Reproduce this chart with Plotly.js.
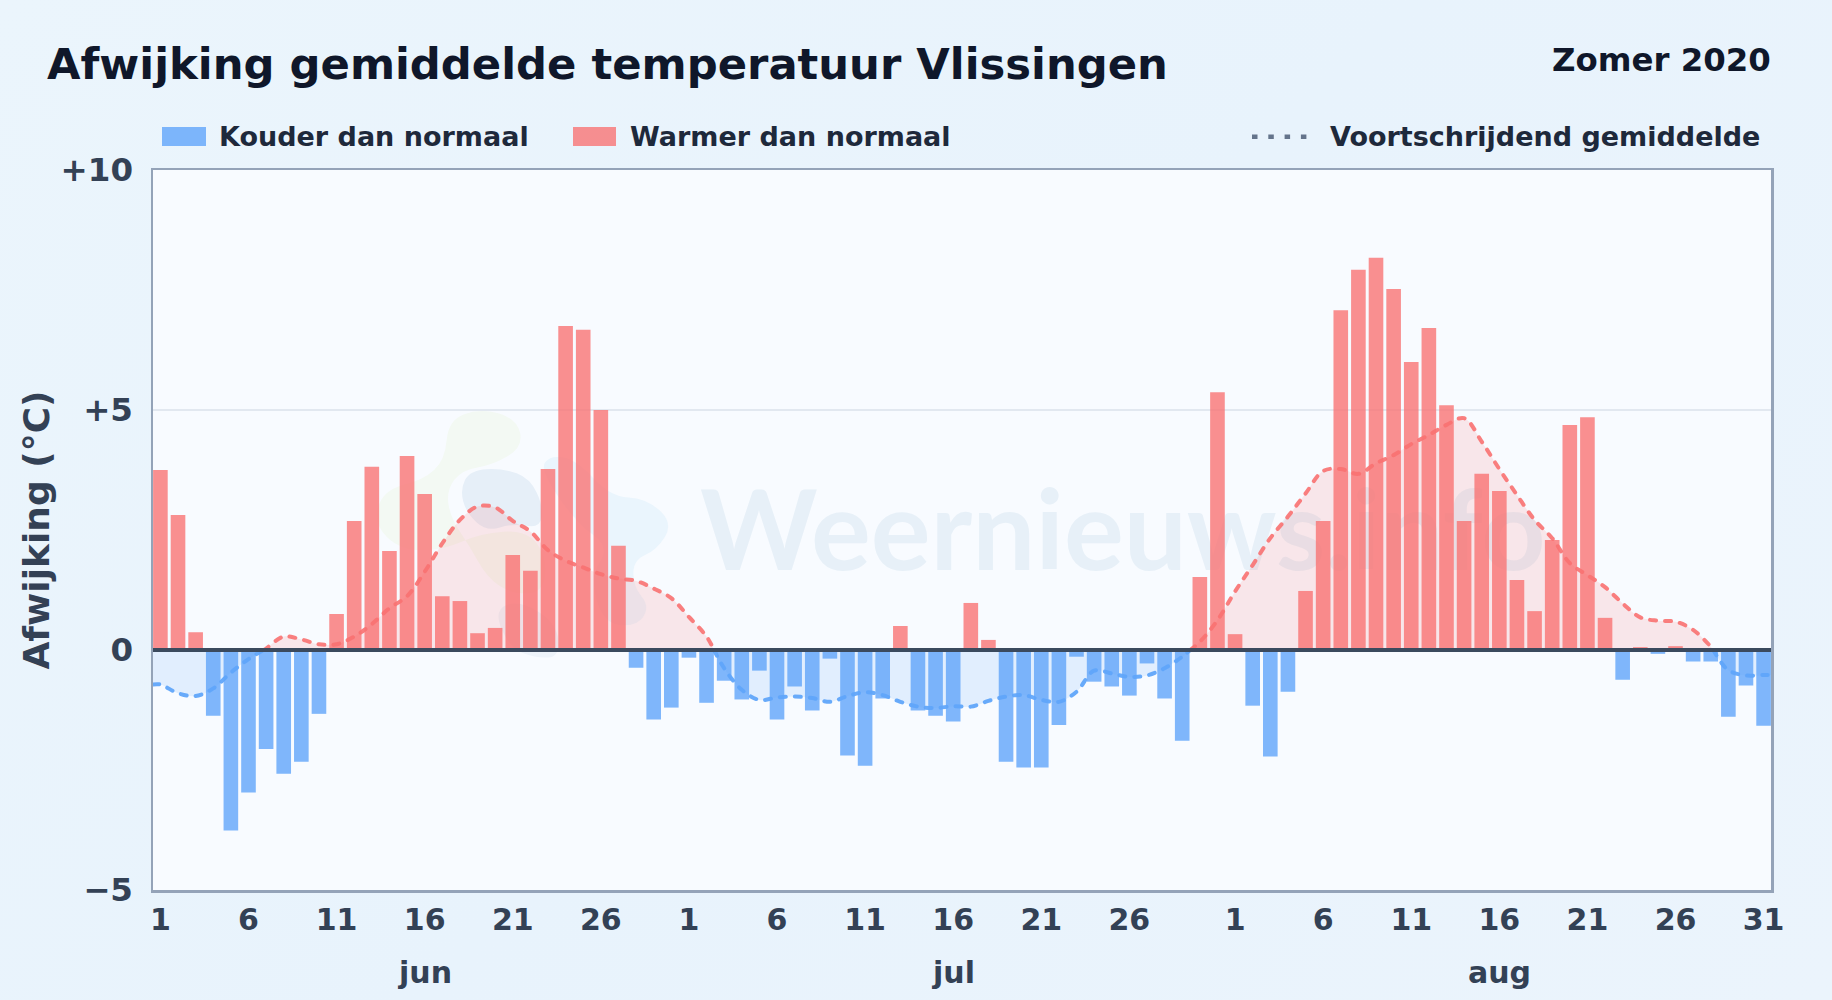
<!DOCTYPE html>
<html lang="nl">
<head>
<meta charset="utf-8">
<title>Afwijking gemiddelde temperatuur Vlissingen</title>
<script src="https://cdn.plot.ly/plotly-3.0.1.min.js"></script>
<style>
html,body{margin:0;padding:0;width:1832px;height:1000px;overflow:hidden;background:linear-gradient(135deg,#ebf5fc 0%,#e8f3fc 50%,#ebf4fc 100%);}
#chart{width:1832px;height:1000px;}
.scatterlayer .js-line{stroke-linecap:round;}
</style>
</head>
<body>
<div id="chart"></div>
<script>
const titleText = "Afwijking gemiddelde temperatuur Vlissingen";
const periodText = "Zomer 2020";
const yAxisTitle = "Afwijking (°C)";
const coldLabel = "Kouder dan normaal";
const warmLabel = "Warmer dan normaal";
const avgLabel = "Voortschrijdend gemiddelde";
const watermark = "Weernieuws.info";

const anomalies = [
  3.75,2.81,0.37,-1.37,-3.76,-2.97,-2.06,-2.58,-2.33,-1.33,
  0.75,2.69,3.82,2.06,4.04,3.25,1.12,1.02,0.35,0.46,
  1.98,1.65,3.77,6.75,6.67,5.0,2.17,-0.37,-1.45,-1.2,
  -0.16,-1.1,-0.64,-1.03,-0.43,-1.45,-0.76,-1.26,-0.18,-2.2,
  -2.41,-1.01,0.5,-1.26,-1.37,-1.49,0.98,0.21,-2.33,-2.45,
  -2.45,-1.56,-0.14,-0.66,-0.76,-0.95,-0.28,-1.01,-1.89,1.52,
  5.37,0.33,-1.16,-2.22,-0.87,1.23,2.69,7.08,7.92,8.17,
  7.52,6.0,6.71,5.1,2.69,3.67,3.31,1.46,0.81,2.29,
  4.69,4.85,0.67,-0.62,0.06,-0.08,0.08,-0.24,-0.24,-1.39,
  -0.74,-1.58
];
const movingAvg = [
  -0.72,-0.9,-0.96,-0.8,-0.47,-0.19,0.03,0.28,0.22,0.12,
  0.12,0.28,0.54,0.87,1.12,1.63,2.22,2.71,2.99,2.97,
  2.69,2.47,2.08,1.86,1.72,1.58,1.49,1.44,1.28,1.08,
  0.69,0.28,-0.38,-0.83,-1.04,-0.99,-0.97,-1.0,-1.08,-0.96,
  -0.88,-0.94,-1.08,-1.18,-1.21,-1.17,-1.18,-1.06,-0.97,-0.94,
  -1.04,-1.08,-0.87,-0.43,-0.49,-0.56,-0.53,-0.38,-0.14,0.17,
  0.62,1.22,1.77,2.33,2.78,3.26,3.73,3.77,3.67,3.89,
  4.06,4.29,4.48,4.69,4.83,4.34,3.77,3.23,2.71,2.33,
  1.81,1.56,1.31,0.97,0.68,0.61,0.59,0.42,0.07,-0.42,
  -0.53,-0.52
];
const xTickPositions = [0,5,10,15,20,25,30,35,40,45,50,55,61,66,71,76,81,86,91];
const xTickLabels = ["1","6","11","16","21","26","1","6","11","16","21","26","1","6","11","16","21","26","31"];
const yTickValues = [-5,0,5,10];
const yTickLabels = ["−5","0","+5","+10"];
const monthLabels = ["jun","jul","aug"];
const monthPositions = [15,45,76];
const xRange = [-0.42, 91.42];

const dayIndex = anomalies.map((_, i) => i);
const coldValues = anomalies.map(v => v < 0 ? v : null);
const warmValues = anomalies.map(v => v >= 0 ? v : null);

// the moving-average line runs from plot edge to plot edge
const lineX = [xRange[0], ...dayIndex, xRange[1]];
const lineY = [movingAvg[0], ...movingAvg, movingAvg[movingAvg.length - 1]];

// split it into warm and cold runs at its zero crossings
const warmX = [], warmY = [], coldX = [], coldY = [];
lineY.forEach((v, i) => {
  if (i > 0 && lineY[i - 1] * v < 0) {
    const p = lineY[i - 1];
    const cross = lineX[i - 1] + (lineX[i] - lineX[i - 1]) * p / (p - v);
    if (v > 0) { coldX.push(cross, null); coldY.push(0, null); warmX.push(cross); warmY.push(0); }
    else { warmX.push(cross, null); warmY.push(0, null); coldX.push(cross); coldY.push(0); }
  }
  if (v >= 0) { warmX.push(lineX[i]); warmY.push(v); } else { coldX.push(lineX[i]); coldY.push(v); }
});

const W = 1832, H = 1000, L = 153, R = 1771, T = 170, B = 890;
const FONT = '"DejaVu Sans", sans-serif';
const fx = px => (px - L) / (R - L);
const fy = py => (B - py) / (B - T);

function blob(zoomPts) {
  const pts = zoomPts.map(p => [fx(370 + p[0] / 3), fy(390 + p[1] / 3)]);
  const mid = (a, b) => ((a[0] + b[0]) / 2).toFixed(5) + "," + ((a[1] + b[1]) / 2).toFixed(5);
  let d = "M" + mid(pts[pts.length - 1], pts[0]);
  pts.forEach((p, i) => { d += "Q" + p[0].toFixed(5) + "," + p[1].toFixed(5) + " " + mid(p, pts[(i + 1) % pts.length]); });
  return d + "Z";
}
const logoShape = (pts, color) => ({type:"path", xref:"paper", yref:"paper", layer:"below", path:blob(pts), fillcolor:color, line:{width:0}});

const shapes = [
  logoShape([[235,90],[330,55],[440,85],[460,170],[370,225],[275,240],[230,300],[240,380],[300,470],[350,560],[420,610],[520,610],[530,500],[470,420],[330,430],[220,480],[90,480],[10,400],[40,300],[160,270],[225,210]], "#f3f9f3"),
  logoShape([[510,240],[540,195],[620,210],[720,320],[830,325],[910,400],[860,480],[790,510],[790,590],[840,650],[800,710],[700,700],[660,560],[720,470],[620,400]], "#eaf5fd"),
  logoShape([[370,660],[450,630],[560,700],[570,800],[500,805],[420,775]], "#edf3fa"),
  logoShape([[270,300],[300,240],[400,235],[480,265],[520,350],[510,415],[430,400],[350,425],[290,370]], "#e6eff8"),
  {type:"line", xref:"paper", yref:"y", x0:0, x1:1, y0:0, y1:0, layer:"above", line:{color:"#3b4a5e", width:4}},
  {type:"rect", xref:"paper", yref:"paper", x0:fx(162), x1:fx(206), y0:fy(146), y1:fy(127), fillcolor:"#60a5fa", opacity:0.8, line:{width:0}},
  {type:"rect", xref:"paper", yref:"paper", x0:fx(573), x1:fx(616), y0:fy(146), y1:fy(127), fillcolor:"#f87171", opacity:0.78, line:{width:0}},
  {type:"line", xref:"paper", yref:"paper", x0:fx(1252), x1:fx(1308), y0:fy(136.7), y1:fy(136.7), line:{color:"#64748b", width:4.5, dash:"5.5px,10.8px"}}
];

const note = (text, px, py, size, color, anchor) => ({
  text, xref:"paper", yref:"paper", x:fx(px), y:fy(py), xanchor:anchor, yanchor:"middle",
  showarrow:false, font:{family:FONT, size, color, weight:700}
});
const annotations = [
  {text:watermark, xref:"paper", yref:"paper", x:fx(698), y:fy(526), xanchor:"left", yanchor:"middle", showarrow:false,
   font:{family:'Lato, sans-serif', size:112, color:"#e7f0f8", weight:700}},
  note(periodText, 1773.5, 60, 32.4, "#0f172a", "right"),
  note(coldLabel, 217, 137, 27, "#1e293b", "left"),
  note(warmLabel, 628, 137, 27, "#1e293b", "left"),
  note(avgLabel, 1328, 137, 27, "#1e293b", "left")
].concat(monthLabels.map((m, i) => ({
  text:m, xref:"x", yref:"paper", x:monthPositions[i], y:fy(972), xanchor:"center", yanchor:"middle",
  showarrow:false, font:{family:FONT, size:30, color:"#334155", weight:700}
})));

const traces = [
  {type:"bar", name:coldLabel, x:dayIndex, y:coldValues, width:0.83, marker:{color:"#60a5fa", opacity:0.8}, showlegend:false},
  {type:"bar", name:warmLabel, x:dayIndex, y:warmValues, width:0.83, marker:{color:"#f87171", opacity:0.78}, showlegend:false},
  {type:"scatter", mode:"lines", name:avgLabel, x:coldX, y:coldY, fill:"tozeroy", fillcolor:"rgba(96,165,250,0.15)",
   line:{color:"rgba(96,165,250,0.95)", width:4, shape:"spline", smoothing:1, dash:"6px,9px"}, connectgaps:false, showlegend:false},
  {type:"scatter", mode:"lines", name:avgLabel, x:warmX, y:warmY, fill:"tozeroy", fillcolor:"rgba(248,113,113,0.15)",
   line:{color:"rgba(248,113,113,0.9)", width:4, shape:"spline", smoothing:1, dash:"6px,9px"}, connectgaps:false, showlegend:false}
];

const layout = {
  width:W, height:H, autosize:false,
  margin:{l:L, r:W - R, t:T, b:H - B, pad:0},
  paper_bgcolor:"rgba(0,0,0,0)", plot_bgcolor:"#f8fbff",
  showlegend:false, hovermode:false, barmode:"overlay", dragmode:false,
  title:{text:titleText, x:47 / W, xref:"container", xanchor:"left", y:1 - 64 / H, yref:"container", yanchor:"middle",
         font:{family:FONT, size:43.3, color:"#0f172a", weight:700}, pad:{l:0}},
  xaxis:{range:xRange, tickmode:"array", tickvals:xTickPositions, ticktext:xTickLabels, showgrid:false, zeroline:false,
         showline:true, mirror:true, linecolor:"#94a3b8", linewidth:2.5, ticks:"outside", ticklen:1, tickcolor:"rgba(0,0,0,0)",
         tickfont:{family:FONT, size:30, color:"#334155", weight:700}},
  yaxis:{range:[-5, 10], tickmode:"array", tickvals:yTickValues, ticktext:yTickLabels, showgrid:true, gridcolor:"#e2e8f0", gridwidth:2,
         zeroline:false, showline:true, mirror:true, linecolor:"#94a3b8", linewidth:2.5, ticks:"outside", ticklen:11, tickcolor:"rgba(0,0,0,0)",
         tickfont:{family:FONT, size:32.5, color:"#334155", weight:700},
         title:{text:yAxisTitle, standoff:0, font:{family:FONT, size:36, color:"#334155", weight:700}}},
  shapes, annotations
};

Plotly.newPlot("chart", traces, layout, {displayModeBar:false, staticPlot:true}).then(gd => {
  // the watermark sits behind the bars
  const below = gd.querySelector(".layer-below");
  const mark = [...gd.querySelectorAll(".annotation")].find(a => a.textContent === watermark);
  if (below && mark) below.appendChild(mark);
});
</script>
</body>
</html>
